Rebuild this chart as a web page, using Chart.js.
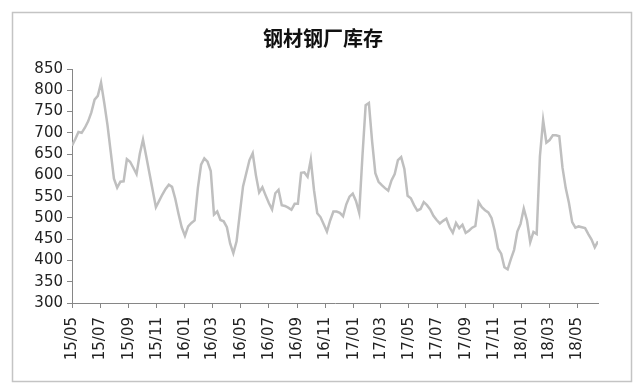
<!DOCTYPE html>
<html>
<head>
<meta charset="utf-8">
<script src="https://cdn.jsdelivr.net/npm/chart.js@4/dist/chart.umd.min.js"></script>
<style>
html,body{margin:0;padding:0;background:#fff;}
#wrap{width:643px;height:392px;}
</style>
</head>
<body>
<div id="wrap"><canvas id="c" width="643" height="392"></canvas></div>
<script>
// Chart title
const chartTitle = '钢材钢厂库存';
// First week of the weekly series
const startYear = 2015, startMonth = 5, startDay = 1;
// Weekly steel-mill inventory values
const inventory = [
  670,685,702,700,712,727,748,778,787,818,
  770,718,655,592,571,585,586,638,632,618,
  603,650,684,645,605,565,525,540,555,568,
  578,573,545,510,478,458,480,488,494,570,
  625,640,632,610,508,515,495,492,478,440,
  417,445,510,574,605,636,652,600,560,572,
  553,535,520,558,566,530,528,524,519,533,
  533,606,607,597,637,565,511,502,485,468,
  494,515,515,512,504,532,550,557,540,512,
  645,765,770,680,605,585,577,570,564,588,
  603,636,643,615,552,546,530,517,521,537,
  530,520,505,495,487,493,498,478,465,488,
  476,484,465,470,477,481,537,525,518,513,
  500,470,428,416,384,379,403,425,468,486,
  522,494,443,467,462,645,730,677,683,694,
  694,692,618,570,535,490,477,480,478,476,
  462,449,431,445
];
// X-axis tick labels (yy/mm)
const tickLabels = ['15/05','15/07','15/09','15/11','16/01','16/03','16/05','16/07','16/09','16/11',
                    '17/01','17/03','17/05','17/07','17/09','17/11','18/01','18/03','18/05'];
// Y-axis range
const yMin = 300, yMax = 850, yStep = 50;

const DAY = 86400000;
const t0 = Date.UTC(startYear, startMonth - 1, startDay);
const tickDays = tickLabels.map(l => {
  const [yy, mm] = l.split('/').map(Number);
  return Math.round((Date.UTC(2000 + yy, mm - 1, 1) - t0) / DAY);
});
const points = inventory.map((v, i) => ({ x: i * 7, y: v }));
const xMax = (inventory.length - 1) * 7;

const frameAndTitle = {
  id: 'frameAndTitle',
  beforeDraw(chart) {
    const ctx = chart.ctx;
    ctx.save();
    ctx.fillStyle = '#ffffff';
    ctx.fillRect(0, 0, chart.width, chart.height);
    ctx.strokeStyle = '#c4c4c4';
    ctx.lineWidth = 1.5;
    ctx.strokeRect(12.5, 12.5, 619, 369);
    ctx.fillStyle = '#111111';
    ctx.font = 'bold 20px "Noto Sans CJK SC"';
    ctx.textAlign = 'center';
    ctx.textBaseline = 'middle';
    ctx.fillText(chartTitle, 323, 38);
    ctx.restore();
  }
};

const tickFont = { family: 'DejaVu Sans', size: 15 };
const axisColor = '#868686';

new Chart(document.getElementById('c'), {
  type: 'line',
  data: {
    datasets: [{
      data: points,
      borderColor: '#bfbfbf',
      borderWidth: 2.5,
      pointRadius: 0,
      tension: 0,
      fill: false
    }]
  },
  options: {
    responsive: false,
    animation: false,
    devicePixelRatio: 1,
    layout: { padding: { left: 12, right: 45, top: 69, bottom: 0 } },
    plugins: { legend: { display: false }, tooltip: { enabled: false }, title: { display: false } },
    scales: {
      x: {
        type: 'linear',
        min: 0,
        max: xMax,
        afterBuildTicks: axis => { axis.ticks = tickDays.map(v => ({ value: v })); },
        afterFit: s => { s.height = 89; },
        ticks: {
          autoSkip: false,
          minRotation: 90,
          maxRotation: 90,
          padding: 9,
          color: '#222222',
          font: tickFont,
          callback: (v, i) => tickLabels[i]
        },
        grid: { drawOnChartArea: false, drawTicks: true, tickLength: 5, color: axisColor },
        border: { color: axisColor, width: 1 }
      },
      y: {
        min: yMin,
        max: yMax,
        afterFit: s => { s.width = 60; },
        ticks: { stepSize: yStep, padding: 4, color: '#222222', font: tickFont },
        grid: { drawOnChartArea: false, drawTicks: true, tickLength: 5, color: axisColor },
        border: { color: axisColor, width: 1 }
      }
    }
  },
  plugins: [frameAndTitle]
});
</script>
</body>
</html>
